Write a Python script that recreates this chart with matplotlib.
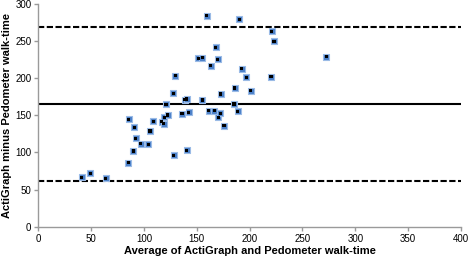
import matplotlib
matplotlib.use("Agg")
import matplotlib.pyplot as plt

# Bland-Altman style data
avg_walk = [41, 49, 64, 85, 85.5, 90, 91, 92, 97, 104,
            105.7, 109, 117, 118.5, 119.2, 122.4, 120.8, 127.7, 129.8, 128,
            140.3, 136, 142.2, 138.5, 140.5, 151.5, 155.2, 155.3, 159.3, 161.2,
            163, 166.5, 168, 169.7, 170.3, 172.4, 172.8, 175.7, 185.2, 185.8,
            188.9, 190.2, 192.7, 197, 201, 220.2, 221, 223, 272.4]
diff_walk = [66.5, 72, 65.5, 86, 144.5, 102, 134, 119, 112, 111,
             129, 142, 141.5, 139, 147.4, 150.5, 165, 179.7, 203.4, 96,
             103, 152.5, 154, 171, 172, 226.8, 227.6, 170.7, 284.5, 156,
             217, 156, 241.6, 225.7, 147.5, 152.7, 178.8, 135.8, 165.3, 186.8,
             155.4, 279.4, 212.8, 201, 183, 202, 263, 250, 229]

mean_diff = 165
upper_loa = 269
lower_loa = 61

plt.rcParams['font.family'] = ['Liberation Sans', 'DejaVu Sans']

fig = plt.figure(figsize=(4.71, 2.62), dpi=100)
ax = fig.add_axes([0.0813, 0.1347, 0.8975, 0.85])

ax.axhline(mean_diff, color='black', linewidth=1.5, zorder=2)
ax.axhline(upper_loa, color='black', linewidth=1.5, linestyle=(0, (3, 1.2)), zorder=2)
ax.axhline(lower_loa, color='black', linewidth=1.5, linestyle=(0, (3, 1.2)), zorder=2)

# blue square marker with a black centre
ax.scatter(avg_walk, diff_walk, marker='s', s=24, facecolor='#4a7fc8',
           edgecolor='#9bbbe6', linewidth=0.8, zorder=3)
ax.scatter(avg_walk, diff_walk, marker='s', s=5, facecolor='black',
           edgecolor='none', zorder=4)

ax.set_xlim(0, 400)
ax.set_ylim(0, 300)
ax.set_xticks(range(0, 401, 50))
ax.set_yticks(range(0, 301, 50))

for side in ['top', 'right']:
    ax.spines[side].set_visible(False)
for side in ['left', 'bottom']:
    ax.spines[side].set_color('#9a9a9a')
    ax.spines[side].set_linewidth(1.0)
ax.tick_params(axis='both', direction='out', length=3, width=1.0,
               color='#9a9a9a', labelsize=7, pad=2)

ax.set_xlabel('Average of ActiGraph and Pedometer walk-time',
              fontsize=8, fontweight='bold', labelpad=2)
ax.set_ylabel('ActiGraph minus Pedometer walk-time',
              fontsize=8, fontweight='bold', labelpad=2)

fig.savefig('out.png', dpi=100)
